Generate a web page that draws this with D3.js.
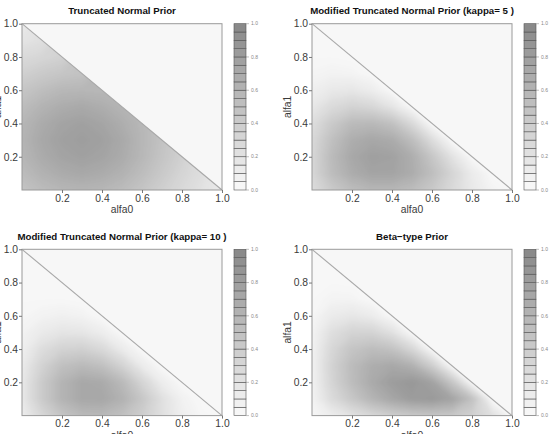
<!DOCTYPE html>
<html><head><meta charset="utf-8">
<script src="https://cdn.jsdelivr.net/npm/d3@7"></script>
<style>
body{margin:0;background:#fff}
svg{display:block}
text{font-family:"Liberation Sans",Arial,Helvetica,sans-serif}
</style>
</head><body>
<svg id="chart" width="550" height="434"></svg>
<script>
// ---------- data ----------
const titles = [
  "Truncated Normal Prior",
  "Modified Truncated Normal Prior (kappa= 5 )",
  "Modified Truncated Normal Prior (kappa= 10 )",
  "Beta\u2212type Prior"
];
const xLabel = "alfa0";
const yLabel = "alfa1";
const axisTicks = [0.2, 0.4, 0.6, 0.8, 1.0];
const keyTicks = [0.0, 0.2, 0.4, 0.6, 0.8, 1.0];
const keyBands = d3.range(20);          // 20 key levels, 0.05 wide
const gridStep = 0.1;                    // grid spacing of the read values

// density values: rows = alfa1 (0,0.1,...,1), cols = alfa0 (0..1-alfa1)
const truncNormal = [
  [0.48,0.55,0.60,0.62,0.60,0.55,0.47,0.37,0.28,0.20,0.13],
  [0.55,0.64,0.70,0.73,0.70,0.64,0.54,0.43,0.32,0.23],
  [0.60,0.70,0.77,0.80,0.77,0.70,0.59,0.47,0.36],
  [0.62,0.73,0.80,0.82,0.80,0.72,0.60,0.49],
  [0.60,0.70,0.77,0.80,0.76,0.68,0.59],
  [0.54,0.63,0.69,0.72,0.68,0.62],
  [0.46,0.53,0.59,0.60,0.59],
  [0.36,0.42,0.46,0.49],
  [0.27,0.31,0.35],
  [0.18,0.22],
  [0.12]
];
const modTruncK5 = [
  [0.25,0.42,0.54,0.60,0.60,0.54,0.43,0.28,0.14,0.04,0.00],
  [0.30,0.54,0.69,0.77,0.77,0.69,0.53,0.32,0.12,0.00],
  [0.30,0.56,0.73,0.81,0.79,0.68,0.45,0.20,0.00],
  [0.28,0.51,0.68,0.74,0.70,0.53,0.25,0.00],
  [0.24,0.42,0.56,0.58,0.50,0.28,0.00],
  [0.15,0.27,0.34,0.30,0.18,0.00],
  [0.08,0.14,0.16,0.10,0.00],
  [0.03,0.05,0.04,0.00],
  [0.01,0.01,0.00],
  [0.00,0.00],
  [0.00]
];
const modTruncK10 = [
  [0.10,0.30,0.47,0.57,0.58,0.51,0.38,0.22,0.08,0.02,0.00],
  [0.14,0.41,0.62,0.73,0.74,0.64,0.45,0.22,0.06,0.00],
  [0.14,0.41,0.62,0.73,0.71,0.57,0.32,0.10,0.00],
  [0.12,0.34,0.51,0.57,0.51,0.34,0.12,0.00],
  [0.08,0.24,0.34,0.36,0.28,0.12,0.00],
  [0.05,0.13,0.18,0.17,0.10,0.00],
  [0.02,0.05,0.07,0.05,0.00],
  [0.01,0.01,0.01,0.00],
  [0.00,0.00,0.00],
  [0.00,0.00],
  [0.00]
];
const betaType = [
  [0.02,0.10,0.20,0.30,0.38,0.44,0.46,0.44,0.36,0.22,0.00],
  [0.04,0.26,0.44,0.61,0.74,0.84,0.86,0.77,0.50,0.00],
  [0.05,0.32,0.54,0.71,0.83,0.88,0.78,0.45,0.00],
  [0.05,0.34,0.55,0.68,0.73,0.65,0.38,0.00],
  [0.05,0.30,0.47,0.54,0.49,0.30,0.00],
  [0.04,0.23,0.33,0.33,0.21,0.00],
  [0.02,0.12,0.16,0.11,0.00],
  [0.01,0.04,0.04,0.00],
  [0.00,0.01,0.00],
  [0.00,0.00],
  [0.00]
];
const panelData = [truncNormal, modTruncK5, modTruncK10, betaType];

// ---------- layout ----------
const svg = d3.select("#chart");
const colShift = 290, rowShift = 225.6;
const base = {x0: 22, x1: 222, y0: 23.7, y1: 190, kx0: 234, kx1: 246};
const gray = d3.scaleLinear().domain([0, 1]).range(["#f7f7f7", "#8a8a8a"]).interpolate(d3.interpolateRgb);
const fmt = d3.format(".1f");

const defs = svg.append("defs");
defs.append("filter").attr("id", "soft")
  .attr("filterUnits", "userSpaceOnUse").attr("x", -50).attr("y", -50).attr("width", 700).attr("height", 600)
  .append("feGaussianBlur").attr("stdDeviation", 1.8);

panelData.forEach((rows, idx) => {
  const dx = (idx % 2) * colShift, dy = Math.floor(idx / 2) * rowShift;
  const x = d3.scaleLinear().domain([0, 1]).range([base.x0 + dx, base.x1 + dx]);
  const y = d3.scaleLinear().domain([0, 1]).range([base.y1 + dy, base.y0 + dy]);
  const g = svg.append("g");

  // plot background (lowest level colour)
  g.append("rect").attr("x", x(0)).attr("y", y(1))
    .attr("width", x(1) - x(0)).attr("height", y(0) - y(1)).attr("fill", gray(0));

  // grid (padded for rendering only)
  const pad = 1, n = 11 + 2 * pad;
  const vals = new Array(n * n);
  for (let gj = 0; gj < n; gj++) for (let gi = 0; gi < n; gi++) {
    const i = Math.max(0, Math.min(10, gi - pad));
    let j = Math.max(0, Math.min(10, gj - pad));
    if (i + j > 10) j = 10 - i;
    vals[gj * n + gi] = rows[j][i];
  }
  const thresholds = d3.range(0, 1.0001, 0.0125);
  const contours = d3.contours().size([n, n]).thresholds(thresholds)(vals);
  const proj = d3.geoTransform({
    point(px, py) { this.stream.point(x((px - 0.5 - pad) * gridStep), y((py - 0.5 - pad) * gridStep)); }
  });
  const path = d3.geoPath(proj);

  const clipId = "tri" + idx;
  defs.append("clipPath").attr("id", clipId).append("polygon")
    .attr("points", [[x(0), y(0)], [x(0), y(1)], [x(1), y(0)]].map(p => p.join(",")).join(" "));

  g.append("g").attr("clip-path", `url(#${clipId})`)
    .append("g").attr("filter", "url(#soft)")
    .selectAll("path").data(contours).join("path")
    .attr("d", path).attr("fill", d => gray(d.value)).attr("stroke", "none");

  // diagonal
  g.append("line").attr("x1", x(0)).attr("y1", y(1)).attr("x2", x(1)).attr("y2", y(0))
    .attr("stroke", "#a8a8a8").attr("stroke-width", 1.1);
  // frame
  g.append("rect").attr("x", x(0)).attr("y", y(1))
    .attr("width", x(1) - x(0)).attr("height", y(0) - y(1))
    .attr("fill", "none").attr("stroke", "#9a9a9a").attr("stroke-width", 1);

  // axes
  const ax = g.append("g").attr("transform", `translate(0,${y(0)})`)
    .call(d3.axisBottom(x).tickValues(axisTicks).tickSize(3).tickPadding(1.5).tickFormat(fmt));
  const ay = g.append("g").attr("transform", `translate(${x(0)},0)`)
    .call(d3.axisLeft(y).tickValues(axisTicks).tickSize(3).tickPadding(1).tickFormat(fmt));
  [ax, ay].forEach(a => {
    a.select(".domain").remove();
    a.selectAll("line").attr("stroke", "#777");
    a.selectAll("text").attr("font-size", 10.3).attr("fill", "#3a3a3a")
      .style("font-family", '"Liberation Sans",Arial,sans-serif');
  });

  // axis titles
  g.append("text").attr("x", (x(0) + x(1)) / 2).attr("y", y(0) + 23)
    .attr("text-anchor", "middle").attr("font-size", 10.3).attr("fill", "#3a3a3a").text(xLabel);
  g.append("text").attr("transform", `translate(${x(0) - 21},${(y(0) + y(1)) / 2}) rotate(-90)`)
    .attr("text-anchor", "middle").attr("font-size", 10.3).attr("fill", "#3a3a3a").text(yLabel);

  // title
  g.append("text").attr("x", (x(0) + x(1)) / 2).attr("y", y(1) - 9.3)
    .attr("text-anchor", "middle").attr("font-size", 9.7).attr("font-weight", "bold")
    .attr("fill", "#111").text(titles[idx]);

  // colour key
  const kx0 = base.kx0 + dx, kx1 = base.kx1 + dx;
  const ky = d3.scaleLinear().domain([0, 1]).range([base.y1 + dy, base.y0 + dy]);
  g.append("g").selectAll("rect").data(keyBands).join("rect")
    .attr("x", kx0).attr("width", kx1 - kx0)
    .attr("y", k => ky((k + 1) * 0.05)).attr("height", k => ky(k * 0.05) - ky((k + 1) * 0.05))
    .attr("fill", k => gray(k / 19)).attr("stroke", "#555").attr("stroke-width", 0.6);
  const kt = g.append("g").selectAll("g").data(keyTicks).join("g")
    .attr("transform", t => `translate(${kx1},${ky(t)})`);
  kt.append("line").attr("x1", 0).attr("x2", 3).attr("stroke", "#999").attr("stroke-width", 0.6);
  kt.append("text").attr("x", 5).attr("dy", "0.35em").attr("font-size", 5)
    .attr("fill", "#888").text(fmt);
});
</script>
</body></html>
